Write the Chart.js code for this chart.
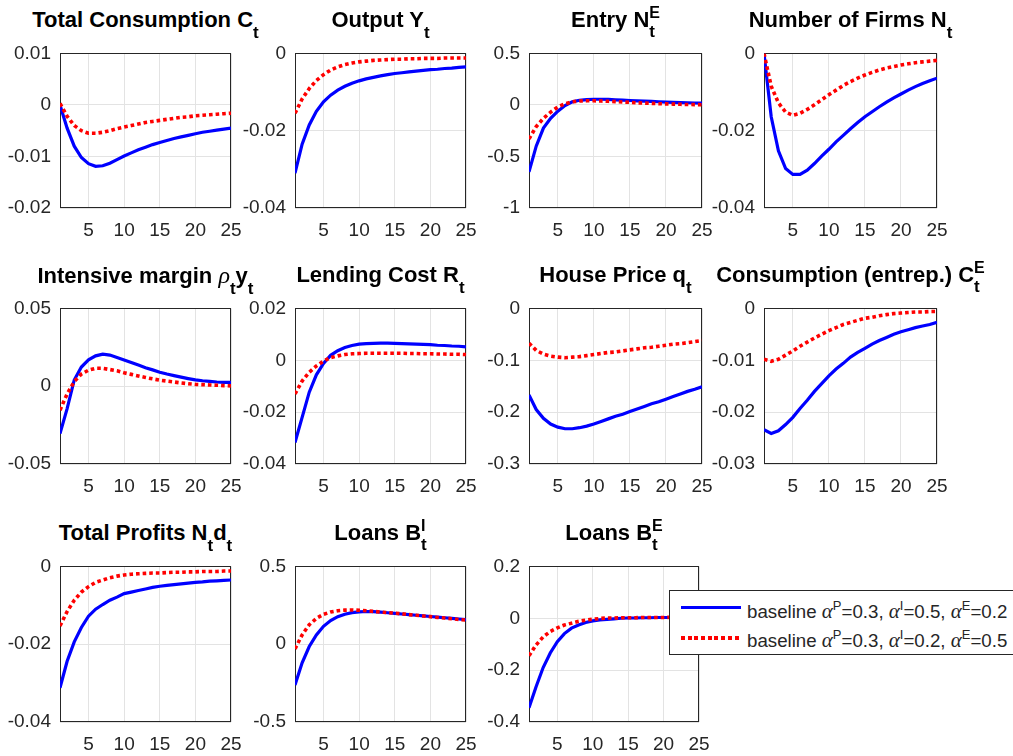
<!DOCTYPE html>
<html>
<head>
<meta charset="utf-8">
<script src="https://cdn.jsdelivr.net/npm/chart.js@4.4.1/dist/chart.umd.min.js"></script>
<style>
html,body{margin:0;padding:0;background:#fff;width:1013px;height:756px;overflow:hidden;}
body{position:relative;font-family:"Liberation Sans",Arial,Helvetica,sans-serif;}
canvas{position:absolute;}
.title{position:absolute;text-align:center;font-weight:bold;font-size:22px;line-height:22px;color:#000;white-space:nowrap;}
.sb{font-size:17px;position:relative;top:11px;}
.st{display:inline-grid;line-height:17px;}
.st>span{grid-area:1/1;text-align:left;}
.st .u{font-size:16px;position:relative;top:-9px;}
.st .d{font-size:17px;position:relative;top:10px;}
.gr{font-family:"Liberation Serif","Times New Roman",serif;font-style:italic;font-weight:normal;font-size:24px;}
#legend{position:absolute;left:669px;top:590px;width:370px;height:63px;border:1px solid #262626;background:#fff;z-index:10;color:#262626;}
.lrow{position:absolute;left:77px;font-size:18.7px;line-height:20px;white-space:nowrap;}
.lsamp{position:absolute;left:11px;width:60px;height:3px;}
.al{font-family:"Liberation Serif","Times New Roman",serif;font-style:italic;font-size:21px;}
.lsup{font-size:13px;position:relative;top:-8px;}
</style>
</head>
<body>
<div id="legend">
  <div class="lsamp" style="top:15px;background:#0000ff;"></div>
  <div class="lrow" style="top:10px;">baseline <span class="al">α</span><span class="lsup">P</span>=0.3, <span class="al">α</span><span class="lsup">I</span>=0.5, <span class="al">α</span><span class="lsup">E</span>=0.2</div>
  <div class="lsamp" style="top:45px;background:repeating-linear-gradient(to right,#ff0000 0 4px,transparent 4px 6.7px);height:4px;"></div>
  <div class="lrow" style="top:39px;">baseline <span class="al">α</span><span class="lsup">P</span>=0.3, <span class="al">α</span><span class="lsup">I</span>=0.2, <span class="al">α</span><span class="lsup">E</span>=0.5</div>
</div>
<script>
// ---------- data ----------
const periods = [1,2,3,4,5,6,7,8,9,10,11,12,13,14,15,16,17,18,19,20,21,22,23,24,25];
const xTickLabels = [5,10,15,20,25];
const seriesLabels = ['baseline αP=0.3, αI=0.5, αE=0.2', 'baseline αP=0.3, αI=0.2, αE=0.5'];

const consBase = [0,-0.0045,-0.0080,-0.0102,-0.0114,-0.0119,-0.0118,-0.0113,-0.0106,-0.0099,-0.0093,-0.0087,-0.0082,-0.0077,-0.0073,-0.0069,-0.0065,-0.0062,-0.0059,-0.0056,-0.0053,-0.0051,-0.0049,-0.0047,-0.0045];
const consAlt  = [0.0003,-0.0022,-0.0040,-0.0050,-0.0055,-0.0055,-0.0053,-0.0050,-0.0046,-0.0043,-0.0040,-0.0037,-0.0034,-0.0032,-0.0030,-0.0028,-0.0026,-0.0024,-0.0023,-0.0021,-0.0020,-0.0019,-0.0018,-0.0017,-0.0016];
const consTicks = [-0.02,-0.01,0,0.01];

const outBase = [-0.0310,-0.0235,-0.0185,-0.0150,-0.0125,-0.0108,-0.0095,-0.0085,-0.0077,-0.0071,-0.0066,-0.0062,-0.0058,-0.0055,-0.0052,-0.0050,-0.0048,-0.0046,-0.0044,-0.0042,-0.0041,-0.0039,-0.0038,-0.0036,-0.0035];
const outAlt  = [-0.0155,-0.0118,-0.0091,-0.0070,-0.0055,-0.0043,-0.0035,-0.0029,-0.0025,-0.0022,-0.0020,-0.0018,-0.0017,-0.0016,-0.0015,-0.0015,-0.0014,-0.0014,-0.0013,-0.0013,-0.0013,-0.0012,-0.0012,-0.0012,-0.0012];
const outTicks = [-0.04,-0.02,0];

const entryBase = [-0.65,-0.40,-0.225,-0.13,-0.06,-0.006,0.03,0.045,0.052,0.055,0.055,0.053,0.050,0.047,0.043,0.040,0.037,0.034,0.031,0.028,0.025,0.023,0.021,0.019,0.017];
const entryAlt  = [-0.33,-0.21,-0.13,-0.07,-0.02,0.012,0.030,0.038,0.040,0.040,0.038,0.035,0.032,0.028,0.025,0.021,0.018,0.015,0.012,0.010,0.008,0.006,0.004,0.003,0.002];
const entryTicks = [-1,-0.5,0,0.5];

const firmsBase = [0,-0.0164,-0.0252,-0.0298,-0.0313,-0.0313,-0.0302,-0.0285,-0.0266,-0.0248,-0.0229,-0.0212,-0.0195,-0.0179,-0.0164,-0.0151,-0.0138,-0.0126,-0.0115,-0.0105,-0.0095,-0.0086,-0.0078,-0.0071,-0.0064];
const firmsAlt  = [0,-0.0085,-0.0128,-0.0152,-0.0160,-0.0155,-0.0145,-0.0133,-0.0120,-0.0107,-0.0095,-0.0083,-0.0073,-0.0064,-0.0056,-0.0049,-0.0043,-0.0038,-0.0034,-0.0030,-0.0027,-0.0024,-0.0022,-0.0020,-0.0018];
const firmsTicks = [-0.04,-0.02,0];

const intBase = [-0.0305,-0.0144,0.0040,0.0123,0.0169,0.0195,0.0206,0.0200,0.0185,0.0169,0.0152,0.0136,0.0119,0.0105,0.0090,0.0078,0.0068,0.0058,0.0049,0.0041,0.0035,0.0031,0.0027,0.0025,0.0024];
const intAlt  = [-0.0154,-0.0050,0.0030,0.0078,0.0103,0.0115,0.0115,0.0107,0.0099,0.0086,0.0076,0.0066,0.0056,0.0047,0.0039,0.0033,0.0027,0.0021,0.0016,0.0012,0.0010,0.0008,0.0006,0.0004,0.0002];
const intTicks = [-0.05,0,0.05];

const lendBase = [-0.0317,-0.0220,-0.0123,-0.0056,-0.0012,0.0019,0.0037,0.0049,0.0057,0.0062,0.0064,0.0065,0.0066,0.0066,0.0065,0.0064,0.0063,0.0062,0.0061,0.0060,0.0058,0.0057,0.0055,0.0054,0.0052];
const lendAlt  = [-0.0130,-0.0080,-0.0046,-0.0022,-0.0003,0.0010,0.0017,0.0022,0.0025,0.0026,0.0027,0.0027,0.0027,0.0027,0.0027,0.0027,0.0026,0.0026,0.0025,0.0025,0.0024,0.0024,0.0023,0.0023,0.0022];
const lendTicks = [-0.04,-0.02,0,0.02];

const houseBase = [-0.167,-0.195,-0.212,-0.223,-0.229,-0.232,-0.232,-0.230,-0.227,-0.223,-0.218,-0.213,-0.208,-0.204,-0.199,-0.194,-0.189,-0.184,-0.180,-0.175,-0.170,-0.165,-0.160,-0.156,-0.151];
const houseAlt  = [-0.067,-0.081,-0.088,-0.092,-0.094,-0.095,-0.094,-0.093,-0.091,-0.089,-0.087,-0.085,-0.084,-0.082,-0.080,-0.078,-0.076,-0.075,-0.073,-0.071,-0.069,-0.068,-0.066,-0.064,-0.062];
const houseTicks = [-0.3,-0.2,-0.1,0];

const entrepBase = [-0.0234,-0.0241,-0.0236,-0.0224,-0.0210,-0.0193,-0.0177,-0.0160,-0.0145,-0.0130,-0.0117,-0.0106,-0.0094,-0.0085,-0.0077,-0.0069,-0.0062,-0.0056,-0.0050,-0.0045,-0.0041,-0.0037,-0.0034,-0.0031,-0.0027];
const entrepAlt  = [-0.0098,-0.0102,-0.0098,-0.0090,-0.0082,-0.0073,-0.0065,-0.0057,-0.0050,-0.0043,-0.0037,-0.0031,-0.0027,-0.0023,-0.0019,-0.0017,-0.0014,-0.0012,-0.0010,-0.0009,-0.0008,-0.0007,-0.0007,-0.0006,-0.0006];
const entrepTicks = [-0.03,-0.02,-0.01,0];

const profBase = [-0.0312,-0.0244,-0.0194,-0.0157,-0.0128,-0.0110,-0.0098,-0.0087,-0.0079,-0.0070,-0.0066,-0.0062,-0.0058,-0.0054,-0.0051,-0.0049,-0.0047,-0.0045,-0.0043,-0.0041,-0.0040,-0.0038,-0.0037,-0.0036,-0.0035];
const profAlt  = [-0.0153,-0.0116,-0.0087,-0.0066,-0.0052,-0.0041,-0.0035,-0.0029,-0.0025,-0.0022,-0.0020,-0.0019,-0.0018,-0.0017,-0.0017,-0.0016,-0.0015,-0.0015,-0.0014,-0.0014,-0.0013,-0.0013,-0.0013,-0.0012,-0.0012];
const profTicks = [-0.04,-0.02,0];

const loansIBase = [-0.262,-0.120,-0.015,0.060,0.115,0.152,0.177,0.193,0.203,0.208,0.210,0.209,0.206,0.202,0.198,0.194,0.190,0.186,0.182,0.178,0.174,0.170,0.166,0.162,0.158];
const loansIAlt  = [-0.030,0.060,0.125,0.166,0.192,0.207,0.215,0.219,0.220,0.218,0.215,0.211,0.207,0.203,0.199,0.195,0.190,0.186,0.181,0.177,0.172,0.168,0.164,0.159,0.155];
const loansITicks = [-0.5,0,0.5];

const loansEBase = [-0.345,-0.264,-0.190,-0.134,-0.090,-0.059,-0.038,-0.026,-0.016,-0.010,-0.006,-0.004,-0.002,0.000,0.001,0.001,0.002,0.002,0.003,0.003,0.003,0.004,0.004,0.004,0.004];
const loansEAlt  = [-0.145,-0.103,-0.072,-0.051,-0.037,-0.026,-0.019,-0.012,-0.007,-0.004,-0.001,0.001,0.001,0.002,0.002,0.002,0.003,0.003,0.003,0.003,0.004,0.004,0.004,0.004,0.004];
const loansETicks = [-0.4,-0.2,0,0.2];

// ---------- layout ----------
const colLeft = [60,295,529,764];
const colWidth = [171,171,173,173];
const rowTop = [47,302,560];
const rowHeight = [161,162,162];

const panels = [
  {title:'Total Consumption C<span class="sb">t</span>', base:consBase, alt:consAlt, ticks:consTicks, c:0, r:0},
  {title:'Output Y<span class="sb">t</span>', base:outBase, alt:outAlt, ticks:outTicks, c:1, r:0},
  {title:'Entry N<span class="st"><span class="u">E</span><span class="d">t</span></span>', base:entryBase, alt:entryAlt, ticks:entryTicks, c:2, r:0},
  {title:'Number of Firms N<span class="sb">t</span>', base:firmsBase, alt:firmsAlt, ticks:firmsTicks, c:3, r:0},
  {title:'Intensive margin <span class="gr">ρ</span><span class="sb">t</span>y<span class="sb">t</span>', base:intBase, alt:intAlt, ticks:intTicks, c:0, r:1},
  {title:'Lending Cost R<span class="sb">t</span>', base:lendBase, alt:lendAlt, ticks:lendTicks, c:1, r:1},
  {title:'House Price q<span class="sb">t</span>', base:houseBase, alt:houseAlt, ticks:houseTicks, c:2, r:1},
  {title:'Consumption (entrep.) C<span class="st"><span class="u">E</span><span class="d">t</span></span>', base:entrepBase, alt:entrepAlt, ticks:entrepTicks, c:3, r:1},
  {title:'Total Profits N<span class="sb">t</span>d<span class="sb">t</span>', base:profBase, alt:profAlt, ticks:profTicks, c:0, r:2},
  {title:'Loans B<span class="st"><span class="u">I</span><span class="d">t</span></span>', base:loansIBase, alt:loansIAlt, ticks:loansITicks, c:1, r:2},
  {title:'Loans B<span class="st"><span class="u">E</span><span class="d">t</span></span>', base:loansEBase, alt:loansEAlt, ticks:loansETicks, c:2, r:2, w:170}
];

const FONT = '"Liberation Sans", Arial, Helvetica, sans-serif';
const AXIS = '#262626';
const GRID = '#e3e3e3';

const boxPlugin = {
  id:'box',
  beforeDatasetsDraw(chart){
    const a = chart.chartArea, ctx = chart.ctx;
    ctx.save();
    ctx.strokeStyle = AXIS; ctx.lineWidth = 1;
    ctx.strokeRect(Math.round(a.left)+0.5, Math.round(a.top)+0.5, Math.round(a.right-a.left)-1, Math.round(a.bottom-a.top)-1);
    ctx.restore();
  }
};

function fmt(v){
  const r = Math.round(v*10000)/10000;
  return r === 0 ? '0' : String(r);
}

panels.forEach(p => {
  const L = colLeft[p.c], T = rowTop[p.r];
  const W = p.w || colWidth[p.c], H = rowHeight[p.r];
  const padL = 62, padT = 14, padR = 22, padB = 40;
  const cv = document.createElement('canvas');
  cv.width = W + padL + padR; cv.height = H + padT + padB;
  cv.style.left = (L - padL) + 'px'; cv.style.top = (T - padT) + 'px';
  document.body.appendChild(cv);

  const t = document.createElement('div');
  t.className = 'title';
  t.style.left = (L - 90) + 'px'; t.style.width = (W + 180) + 'px';
  t.style.top = (T - 38) + 'px';
  t.innerHTML = p.title;
  document.body.appendChild(t);

  new Chart(cv, {
    type:'line',
    data:{datasets:[
      {label:seriesLabels[0], data:periods.map((x,i)=>({x:x,y:p.base[i]})), borderColor:'#0000ff', borderWidth:3.2, pointRadius:0, tension:0, fill:false, order:2},
      {label:seriesLabels[1], data:periods.map((x,i)=>({x:x,y:p.alt[i]})), borderColor:'#ff0000', borderWidth:3.6, borderDash:[3.6,3], borderCapStyle:'butt', pointRadius:0, tension:0, fill:false, order:1}
    ]},
    options:{
      responsive:false, animation:false, events:[],
      layout:{padding:{left:0, top:padT, right:padR, bottom:0}},
      plugins:{legend:{display:false}, tooltip:{enabled:false}, title:{display:false}},
      scales:{
        x:{type:'linear', min:1, max:25,
           afterBuildTicks:s=>{ s.ticks = xTickLabels.map(v=>({value:v})); },
           afterFit:s=>{ s.height = padB; },
           grid:{color:GRID, lineWidth:1, drawTicks:false},
           border:{display:false},
           ticks:{padding:11, color:AXIS, font:{size:19, family:FONT}, maxRotation:0, autoSkip:false, callback:v=>String(v)}},
        y:{type:'linear', min:p.ticks[0], max:p.ticks[p.ticks.length-1],
           afterBuildTicks:s=>{ s.ticks = p.ticks.map(v=>({value:v})); },
           afterFit:s=>{ s.width = padL; },
           grid:{color:GRID, lineWidth:1, drawTicks:false},
           border:{display:false},
           ticks:{padding:9, color:AXIS, font:{size:19, family:FONT}, autoSkip:false, callback:v=>fmt(v)}}
      }
    },
    plugins:[boxPlugin]
  });
});
</script>
</body>
</html>
